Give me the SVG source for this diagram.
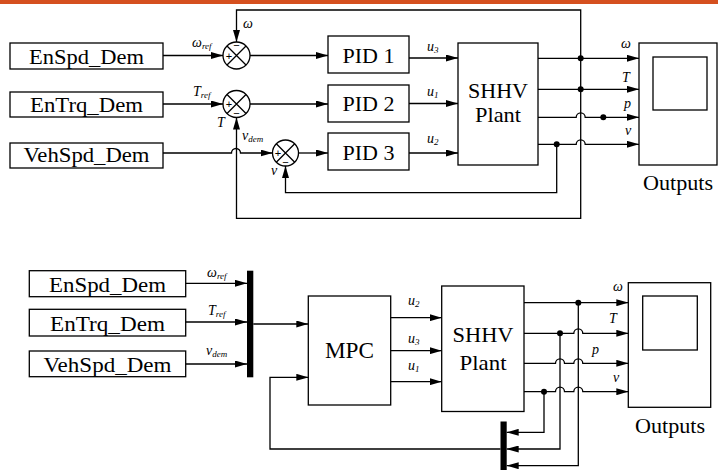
<svg xmlns="http://www.w3.org/2000/svg" width="718" height="473" viewBox="0 0 718 473">
<defs>
<marker id="ah" markerWidth="12" markerHeight="7" refX="12" refY="3.5" orient="auto" markerUnits="userSpaceOnUse">
<path d="M0,0 L12,3.5 L0,7 z" fill="#000"/>
</marker>
<style>
.bx{fill:#fff;stroke:#000;stroke-width:1.3}
.ln{fill:none;stroke:#000;stroke-width:1.3}
.ar{fill:none;stroke:#000;stroke-width:1.3;marker-end:url(#ah)}
.t{font-family:'Liberation Serif','Times New Roman',Times,Tinos,'Nimbus Roman','Nimbus Roman No9 L',FreeSerif,'Noto Serif','DejaVu Serif','Bitstream Vera Serif',Georgia,serif;fill:#000;text-anchor:middle}
.big{font-size:22px}
.lb{font-family:'Liberation Serif','Times New Roman',Times,Tinos,'Nimbus Roman',FreeSerif,'Noto Serif','DejaVu Serif',serif;font-style:italic;font-size:14px;fill:#000}
.sub{font-size:9px}
.sg{font-family:'Liberation Sans',Arial,'DejaVu Sans',sans-serif;font-size:11px;fill:#000;text-anchor:middle}
.dot{fill:#000}
.bar{fill:#000}
</style>
</defs>
<rect x="0" y="0" width="718" height="4" fill="#d5501f"/>

<!-- ===== Top diagram ===== -->
<g id="enspd1"><rect class="bx" x="10" y="43" width="153" height="26"/><text class="t big" x="86.5" y="63.5" textLength="115" lengthAdjust="spacingAndGlyphs">EnSpd_Dem</text></g>
<g id="entrq1"><rect class="bx" x="10" y="92" width="153" height="25"/><text class="t big" x="86.5" y="112" textLength="113" lengthAdjust="spacingAndGlyphs">EnTrq_Dem</text></g>
<g id="vehspd1"><rect class="bx" x="10" y="143" width="153" height="25"/><text class="t big" x="86.5" y="162" textLength="126" lengthAdjust="spacingAndGlyphs">VehSpd_Dem</text></g>

<g id="sum1"><circle class="bx" cx="236.5" cy="55.5" r="13.5"/><path class="ln" d="M227,46 L246,65 M246,46 L227,65"/><text class="sg" x="229" y="59.5">+</text><text class="sg" x="236.5" y="49">−</text></g>
<g id="sum2"><circle class="bx" cx="236.5" cy="104" r="13.5"/><path class="ln" d="M227,94.5 L246,113.5 M246,94.5 L227,113.5"/><text class="sg" x="229" y="108">+</text><text class="sg" x="236.5" y="117">−</text></g>
<g id="sum3"><circle class="bx" cx="285.5" cy="153" r="13"/><path class="ln" d="M276.3,143.8 L294.7,162.2 M294.7,143.8 L276.3,162.2"/><text class="sg" x="278" y="157">+</text><text class="sg" x="285.5" y="165.5">−</text></g>

<g id="pid1"><rect class="bx" x="328" y="36" width="81" height="37"/><text class="t big" x="368.5" y="62.5" textLength="52" lengthAdjust="spacingAndGlyphs">PID 1</text></g>
<g id="pid2"><rect class="bx" x="328" y="85" width="81" height="37"/><text class="t big" x="368.5" y="111" textLength="52" lengthAdjust="spacingAndGlyphs">PID 2</text></g>
<g id="pid3"><rect class="bx" x="328" y="133" width="81" height="37"/><text class="t big" x="368.5" y="160" textLength="52" lengthAdjust="spacingAndGlyphs">PID 3</text></g>

<g id="plant1"><rect class="bx" x="458" y="43" width="80" height="122"/><text class="t big" x="498" y="98" textLength="60" lengthAdjust="spacingAndGlyphs">SHHV</text><text class="t big" x="498" y="122" textLength="46" lengthAdjust="spacingAndGlyphs">Plant</text></g>

<g id="outputs1"><rect class="bx" x="639" y="43" width="78" height="122"/><rect class="bx" x="653" y="57" width="54" height="53"/><text class="t big" x="678" y="190" textLength="70" lengthAdjust="spacingAndGlyphs">Outputs</text></g>

<g id="connectors1">
<path class="ar" d="M163,55.5 H223"/>
<path class="ar" d="M163,104 H223"/>
<path class="ar" d="M163,153 H231.5 A4.5,4.5 0 0 1 240.5,153 H272.5"/>
<path class="ar" d="M250,55.5 H328"/>
<path class="ar" d="M250,104 H328"/>
<path class="ar" d="M298.5,153 H328"/>
<path class="ar" d="M409,58 H458"/>
<path class="ar" d="M409,103.5 H458"/>
<path class="ar" d="M409,153 H458"/>
<path class="ar" d="M538,58.3 H639"/>
<path class="ar" d="M538,89.3 H639"/>
<path class="ar" d="M538,117.3 H576.2 A4.5,4.5 0 0 1 585.2,117.3 H639"/>
<path class="ar" d="M538,144.3 H576.2 A4.5,4.5 0 0 1 585.2,144.3 H639"/>
<path class="ar" d="M580.7,58.3 V10 H236.5 V42"/>
<path class="ar" d="M580.7,58.3 V218.3 H236.5 V117.5"/>
<path class="ar" d="M556.7,144.3 V192.7 H285.5 V166"/>
<circle class="dot" cx="580.7" cy="58.3" r="3"/>
<circle class="dot" cx="580.7" cy="89.3" r="3"/>
<circle class="dot" cx="603.3" cy="117.3" r="3"/>
<circle class="dot" cx="556.7" cy="144.3" r="3"/>
</g>

<g id="labels1">
<text class="lb" x="192" y="47">ω<tspan class="sub" dy="2">ref</tspan></text>
<text class="lb" x="193" y="96">T<tspan class="sub" dy="2">ref</tspan></text>
<text class="lb" x="242" y="140">v<tspan class="sub" dy="2">dem</tspan></text>
<text class="lb" x="243" y="28">ω</text>
<text class="lb" x="217" y="127">T</text>
<text class="lb" x="271" y="175">v</text>
<text class="lb" x="427" y="51">u<tspan class="sub" dy="2">3</tspan></text>
<text class="lb" x="427" y="96">u<tspan class="sub" dy="2">1</tspan></text>
<text class="lb" x="427" y="143">u<tspan class="sub" dy="2">2</tspan></text>
<text class="lb" x="621" y="48">ω</text>
<text class="lb" x="622" y="82">T</text>
<text class="lb" x="624" y="108">p</text>
<text class="lb" x="625" y="135">v</text>
</g>

<!-- ===== Bottom diagram ===== -->
<g id="enspd2"><rect class="bx" x="29.3" y="270.7" width="156.4" height="26"/><text class="t big" x="107.5" y="291.5" textLength="117" lengthAdjust="spacingAndGlyphs">EnSpd_Dem</text></g>
<g id="entrq2"><rect class="bx" x="29.3" y="309.3" width="156.4" height="26.7"/><text class="t big" x="107.5" y="330.5" textLength="115" lengthAdjust="spacingAndGlyphs">EnTrq_Dem</text></g>
<g id="vehspd2"><rect class="bx" x="29.3" y="351" width="156.4" height="25.7"/><text class="t big" x="107.5" y="371.5" textLength="128" lengthAdjust="spacingAndGlyphs">VehSpd_Dem</text></g>

<g id="mux1"><rect class="bar" x="247" y="270.7" width="6.3" height="106.6"/></g>

<g id="mpc"><rect class="bx" x="308.3" y="296" width="82.4" height="109"/><text class="t" style="font-size:23px" x="349.5" y="358" textLength="49" lengthAdjust="spacingAndGlyphs">MPC</text></g>

<g id="plant2"><rect class="bx" x="441.7" y="286" width="82.3" height="125.5"/><text class="t big" x="483" y="341.5" textLength="61" lengthAdjust="spacingAndGlyphs">SHHV</text><text class="t big" x="483" y="370" textLength="47" lengthAdjust="spacingAndGlyphs">Plant</text></g>

<g id="outputs2"><rect class="bx" x="628.3" y="282.7" width="82.4" height="124.6"/><rect class="bx" x="642.7" y="296" width="54.6" height="54"/><text class="t big" x="670" y="433" textLength="70" lengthAdjust="spacingAndGlyphs">Outputs</text></g>

<g id="mux2"><rect class="bar" x="500.5" y="421.5" width="6.2" height="48.5"/></g>

<g id="connectors2">
<path class="ar" d="M185.7,283.3 H247"/>
<path class="ar" d="M185.7,322 H247"/>
<path class="ar" d="M185.7,364 H247"/>
<path class="ar" d="M253.3,324 H308.3"/>
<path class="ar" d="M500.5,449 H270 V377.3 H308.3"/>
<path class="ar" d="M390.7,317.7 H441.7"/>
<path class="ar" d="M390.7,350.7 H441.7"/>
<path class="ar" d="M390.7,381.7 H441.7"/>
<path class="ar" d="M524,302.7 H628.3"/>
<path class="ar" d="M524,333.3 H573.8 A4.5,4.5 0 0 1 582.8,333.3 H628.3"/>
<path class="ar" d="M524,363.3 H555.5 A4.5,4.5 0 0 1 564.5,363.3 H573.8 A4.5,4.5 0 0 1 582.8,363.3 H628.3"/>
<path class="ar" d="M524,391.7 H555.5 A4.5,4.5 0 0 1 564.5,391.7 H573.8 A4.5,4.5 0 0 1 582.8,391.7 H628.3"/>
<path class="ar" d="M544,391.7 V432.3 H506.7"/>
<path class="ar" d="M560,333.3 V449 H506.7"/>
<path class="ar" d="M578.3,302.7 V465.7 H506.7"/>
<circle class="dot" cx="578.3" cy="302.7" r="3"/>
<circle class="dot" cx="560" cy="333.3" r="3"/>
<circle class="dot" cx="544" cy="391.7" r="3"/>
</g>

<g id="labels2">
<text class="lb" x="207" y="277">ω<tspan class="sub" dy="2">ref</tspan></text>
<text class="lb" x="208" y="315">T<tspan class="sub" dy="2">ref</tspan></text>
<text class="lb" x="206" y="355">v<tspan class="sub" dy="2">dem</tspan></text>
<text class="lb" x="408" y="305">u<tspan class="sub" dy="2">2</tspan></text>
<text class="lb" x="408" y="343">u<tspan class="sub" dy="2">3</tspan></text>
<text class="lb" x="408" y="370">u<tspan class="sub" dy="2">1</tspan></text>
<text class="lb" x="613" y="291">ω</text>
<text class="lb" x="609" y="323">T</text>
<text class="lb" x="592" y="354">p</text>
<text class="lb" x="613" y="382">v</text>
</g>
</svg>
